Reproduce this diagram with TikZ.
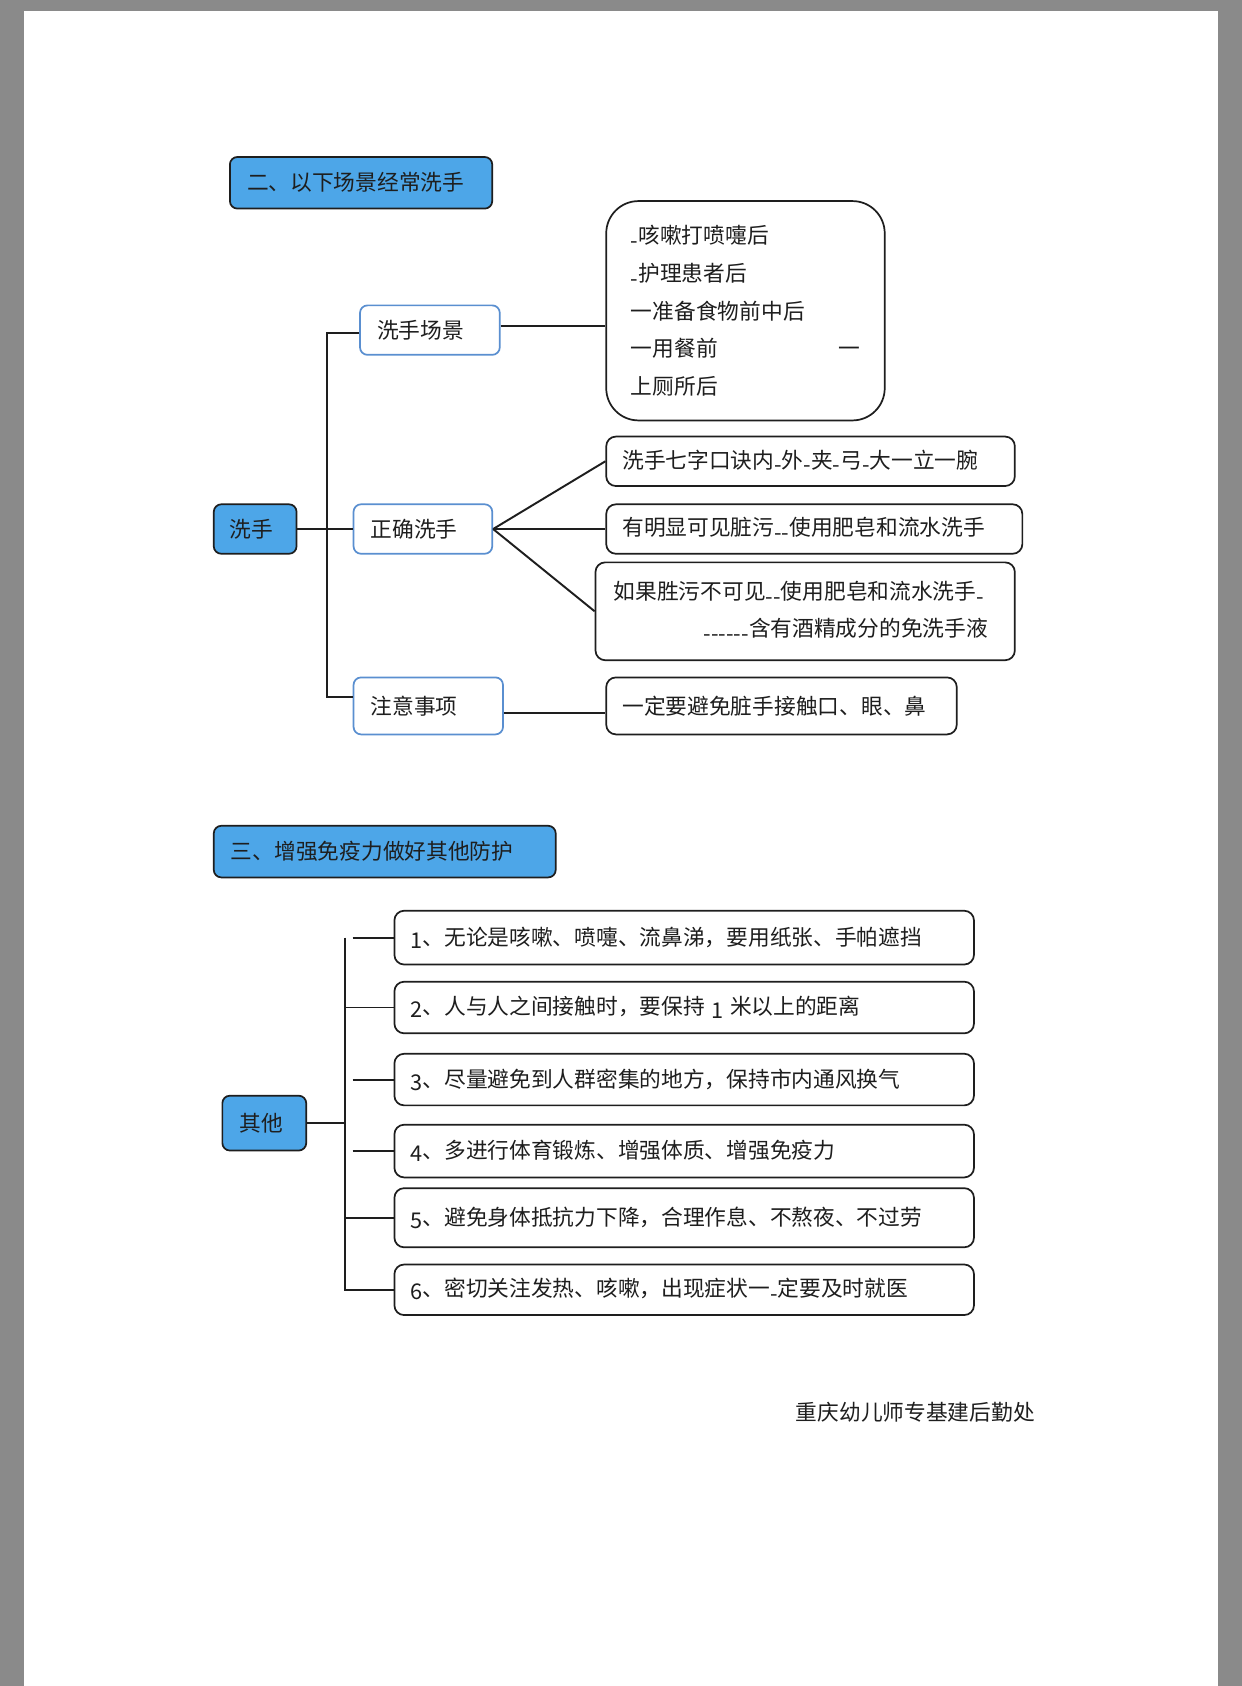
\documentclass[tikz,border=0pt]{standalone}
\usepackage{fontspec}
\setmainfont{Noto Sans CJK SC}
\definecolor{pagegray}{HTML}{8A8A8A}
\definecolor{nodeblue}{HTML}{4DA6E8}
\definecolor{edgeblue}{HTML}{5A8FD0}
\definecolor{inkdark}{HTML}{1E1E1E}
\newcommand\lowdash{\raisebox{-0.22em}{-}}
\newcommand\dg[1]{\raisebox{-0.15em}{#1}}
\newcommand\pushright{\hskip 0pt plus 1filll\relax}
\newcommand\mkbox[8]{%
  \pgfmathsetmacro\mbW{#4-#2}%
  \pgfmathsetmacro\mbH{#5-#3}%
  \pgfmathsetmacro\mbT{#4-#2-2*#6}%
  \pgfmathsetmacro\mbY{(#3+#5)/2}%
  \node[anchor=west, minimum width=\mbW pt, minimum height=\mbH pt,
        text width=\mbT pt, inner xsep=#6pt, inner ysep=0pt, align=left, #7]
        (#1) at (#2,\mbY) {#8};}
\begin{document}
\begin{tikzpicture}[x=1pt,y=-1pt,
  every node/.style={font=\fontsize{20.2}{35}\selectfont, text=inkdark},
  bluebox/.style={draw=inkdark, fill=nodeblue, line width=1.6pt, rounded corners=7pt},
  whitebox/.style={draw=edgeblue, fill=white, line width=1.6pt, rounded corners=7pt},
  plainbox/.style={draw=inkdark, fill=white, line width=1.6pt, rounded corners=9pt},
  link/.style={draw=inkdark, line width=1.8pt}]
\fill[pagegray] (0,0) rectangle (1155,1568);
\fill[white] (22,10) rectangle (1133,1568);
\useasboundingbox (0,0) rectangle (1155,1568);

% ---- section 2
\mkbox{t2}{213}{146}{457}{194}{16}{bluebox}{二、以下场景经常洗手}
\mkbox{xs}{198}{469}{275}{515}{15}{bluebox}{洗手}
\mkbox{cj}{334}{284}{464}{330}{16}{whitebox}{洗手场景}
\mkbox{zq}{328}{469}{457}{515}{16}{whitebox}{正确洗手}
\mkbox{zy}{328}{630}{467}{683}{16}{whitebox}{注意事项}
\mkbox{lst}{563}{187}{822}{391}{23}{plainbox, rounded corners=30pt}{\lowdash 咳嗽打喷嚏后\\\lowdash 护理患者后\\一准备食物前中后\\一用餐前\pushright 一\\上厕所后}
\mkbox{r1}{563}{406}{943}{452}{15}{plainbox}{洗手七字口诀内\lowdash 外\lowdash 夹\lowdash 弓\lowdash 大一立一腕}
\mkbox{r2}{563}{469}{950}{515}{15}{plainbox}{有明显可见脏污\lowdash\lowdash 使用肥皂和流水洗手}
\mkbox{r3}{553}{523}{943}{614}{17}{plainbox}{如果胜污不可见\lowdash\lowdash 使用肥皂和流水洗手\lowdash\\\pushright\lowdash\lowdash\lowdash\lowdash\lowdash\lowdash 含有酒精成分的免洗手液\kern8pt}
\mkbox{r4}{563}{630}{889}{683}{15}{plainbox}{一定要避免脏手接触口、眼、鼻}

\coordinate (tx) at (304,0);
\coordinate (cjL) at ([yshift=-3pt]cj.west);
\coordinate (zyL) at ([yshift=8pt]zy.west);
\coordinate (cjR) at ([yshift=4pt]cj.east);
\coordinate (zyR) at ([yshift=-7pt]zy.east);
\draw[link] (xs.east) -- (zq.west);
\draw[link] (cjL) -- (cjL -| tx) -- (zyL -| tx) -- (zyL);
\draw[link] (cjR) -- (cjR -| lst.west);
\draw[link] (zyR) -- (zyR -| r4.west);
\draw[link] (zq.east) -- (r1.west);
\draw[link] (zq.east) -- (r2.west);
\draw[link] (zq.east) -- (r3.west);

% ---- section 3
\mkbox{t3}{198}{768}{516}{816}{16}{bluebox}{三、增强免疫力做好其他防护}
\mkbox{qt}{206}{1019}{284}{1070}{16}{bluebox}{其他}
\mkbox{o1}{366}{847}{905}{897}{15}{plainbox}{\dg{1}、无论是咳嗽、喷嚏、流鼻涕，要用纸张、手帕遮挡}
\mkbox{o2}{366}{913}{905}{961}{15}{plainbox}{\dg{2}、人与人之间接触时，要保持\hspace{0.3em}\raisebox{-0.2em}{1}\hspace{0.3em}米以上的距离}
\mkbox{o3}{366}{980}{905}{1028}{15}{plainbox}{\dg{3}、尽量避免到人群密集的地方，保持市内通风换气}
\mkbox{o4}{366}{1046}{905}{1095}{15}{plainbox}{\dg{4}、多进行体育锻炼、增强体质、增强免疫力}
\mkbox{o5}{366}{1105}{905}{1160}{15}{plainbox}{\dg{5}、避免身体抵抗力下降，合理作息、不熬夜、不过劳}
\mkbox{o6}{366}{1176}{905}{1223}{15}{plainbox}{\dg{6}、密切关注发热、咳嗽，出现症状一\lowdash 定要及时就医}

\coordinate (ux) at (321,0);
\coordinate (uy) at (328,0);
\draw[link] (qt.east) -- (qt.east -| ux);
\draw[link] (o1.west -| ux) -- (o6.west -| ux) -- (o6.west);
\draw[link] (o1.west -| uy) -- (o1.west);
\draw[link] (o2.west -| ux) -- (o2.west);
\draw[link] (o3.west -| uy) -- (o3.west);
\draw[link] (o4.west -| uy) -- (o4.west);
\draw[link] (o5.west -| ux) -- (o5.west);

% ---- footer
\node[anchor=west, inner sep=0pt] (ft) at (740,1313) {重庆幼儿师专基建后勤处};
\end{tikzpicture}
\end{document}
